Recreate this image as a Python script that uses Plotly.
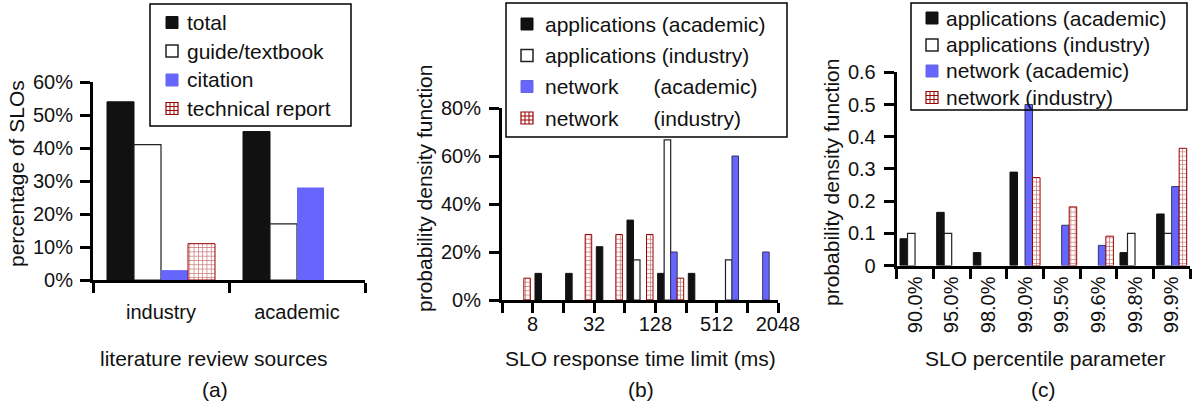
import numpy as np
import plotly.graph_objects as go

W, H = 1195, 404
FONT = "Liberation Sans, Arial, sans-serif"

# ---------------- data ----------------
# (a) literature review sources
a_categories = ["industry", "academic"]
a_series_names = ["total", "guide/textbook", "citation", "technical report"]
a_total = [54, 45]
a_guide = [41, 17]
a_citation = [3, 28]
a_techreport = [11, 0]
a_yticks = [0, 10, 20, 30, 40, 50, 60]

# (b) SLO response time limit histogram (bins by lower edge, ms)
b_bin_lower_ms = [4, 8, 16, 32, 64, 128, 256, 512, 1024]
b_tick_values_ms = [4, 8, 16, 32, 64, 128, 256, 512, 1024, 2048]
b_tick_labels = ["", "8", "", "32", "", "128", "", "512", "", "2048"]
b_apps_academic = [0, 11.1, 11.1, 22.2, 33.3, 11.1, 11.1, 0, 0]
b_apps_industry = [0, 0, 0, 0, 16.7, 66.7, 0, 16.7, 0]
b_net_academic = [0, 0, 0, 0, 0, 20, 0, 60, 20]
b_net_industry = [9.1, 0, 27.3, 27.3, 27.3, 9.1, 0, 0, 0]
b_yticks = [0, 20, 40, 60, 80]

# (c) SLO percentile parameter
c_categories = ["90.0%", "95.0%", "98.0%", "99.0%", "99.5%", "99.6%", "99.8%", "99.9%"]
c_apps_academic = [0.083, 0.165, 0.04, 0.29, 0, 0, 0.04, 0.16]
c_apps_industry = [0.1, 0.1, 0, 0, 0, 0, 0.1, 0.1]
c_net_academic = [0, 0, 0, 0.5, 0.125, 0.0625, 0, 0.245]
c_net_industry = [0, 0, 0, 0.273, 0.182, 0.091, 0, 0.364]
c_yticks = [0, 0.1, 0.2, 0.3, 0.4, 0.5, 0.6]

b_series_names = ["applications (academic)", "applications (industry)",
                  "network\u00a0\u00a0\u00a0\u00a0\u00a0\u00a0(academic)",
                  "network\u00a0\u00a0\u00a0\u00a0\u00a0\u00a0(industry)"]
c_series_names = ["applications (academic)", "applications (industry)",
                  "network (academic)", "network (industry)"]

# ---------------- styles ----------------
BLACK = "#111111"
BLUE = "#6666FF"
RED = "#990000"


def style(k, panel):
    if k == 0:
        return dict(color=BLACK, line=dict(color=BLACK, width=1))
    if k == 1:
        return dict(color="white", line=dict(color="#222222", width=1.2))
    if k == 2:
        if panel == "a":
            return dict(color=BLUE, line=dict(color=BLUE, width=0))
        return dict(color=BLUE, line=dict(color="#333366", width=1))
    return dict(color="white", line=dict(color=RED, width=1),
                pattern=dict(shape="+", fgcolor=RED, bgcolor="white", size=4.3, solidity=0.33))


def px2x(px):
    return px / W


def px2y(py):
    return 1 - py / H


def nz(vals):
    return [v if v else None for v in vals]


fig = go.Figure()

# panel (a)
a_vals = [a_total, a_guide, a_citation, a_techreport]
frac_a = 0.794
wa = frac_a / 4
for k, (name, vals) in enumerate(zip(a_series_names, a_vals)):
    fig.add_trace(go.Bar(x=a_categories, y=nz(vals), name=name, width=wa,
                         offset=-frac_a / 2 + k * wa, marker=style(k, "a"),
                         xaxis="x", yaxis="y", showlegend=False))

# panel (b)
b_vals = [b_apps_academic, b_apps_industry, b_net_academic, b_net_industry]
b_x = np.log2(np.array(b_bin_lower_ms, dtype=float)) + 0.5
frac_b = 0.85
wb = frac_b / 4
for k, (name, vals) in enumerate(zip(b_series_names, b_vals)):
    fig.add_trace(go.Bar(x=b_x, y=nz(vals), name=name, width=wb,
                         offset=-frac_b / 2 + k * wb, marker=style(k, "b"),
                         xaxis="x2", yaxis="y2", showlegend=False))

# panel (c)
c_vals = [c_apps_academic, c_apps_industry, c_net_academic, c_net_industry]
frac_c = 0.82
wc = frac_c / 4
for k, (name, vals) in enumerate(zip(c_series_names, c_vals)):
    fig.add_trace(go.Bar(x=c_categories, y=nz(vals), name=name, width=wc,
                         offset=-frac_c / 2 + k * wc, marker=style(k, "c"),
                         xaxis="x3", yaxis="y3", showlegend=False))

axis_common = dict(showline=True, linecolor="black", linewidth=3, ticks="outside",
                   ticklen=10, tickwidth=3, tickcolor="black", showgrid=False,
                   zeroline=False, automargin=False,
                   tickfont=dict(family=FONT, size=20, color=BLACK))

fig.update_layout(
    width=W, height=H, margin=dict(l=0, r=0, t=0, b=0, autoexpand=False),
    paper_bgcolor="white", plot_bgcolor="white", showlegend=False,
    barmode="overlay", font=dict(family=FONT, size=21, color=BLACK),
    xaxis=dict(axis_common, domain=[px2x(93), px2x(365)], anchor="y", type="category",
               tickson="boundaries", range=[-0.5, 1.5], ticklabelstandoff=12),
    yaxis=dict(axis_common, domain=[px2y(280), px2y(82)], anchor="x", range=[0, 60],
               tickvals=a_yticks, ticktext=[f"{v}%" for v in a_yticks],
               ticklabelstandoff=3),
    xaxis2=dict(axis_common, domain=[px2x(502), px2x(778)], anchor="y2",
                range=[np.log2(b_tick_values_ms[0]), np.log2(b_tick_values_ms[-1])],
                tickvals=list(np.log2(b_tick_values_ms)), ticktext=b_tick_labels,
                ticklabelstandoff=-6),
    yaxis2=dict(axis_common, domain=[px2y(300), px2y(108)], anchor="x2", range=[0, 80],
                tickvals=b_yticks, ticktext=[f"{v}%" for v in b_yticks],
                ticklabelstandoff=4),
    xaxis3=dict(axis_common, domain=[px2x(896.7), px2x(1190)], anchor="y3", type="category",
                tickson="boundaries", range=[-0.5, 7.5], tickangle=-90),
    yaxis3=dict(axis_common, domain=[px2y(265.5), px2y(72.3)], anchor="x3", range=[0, 0.6],
                tickvals=c_yticks, ticktext=[f"{v:g}" for v in c_yticks],
                ticklabelstandoff=4),
)

ann = []
shapes = []


def text(t, x, y, angle=0, size=21, anchor="center"):
    ann.append(dict(text=t, x=px2x(x), y=px2y(y), xref="paper", yref="paper",
                    showarrow=False, xanchor=anchor, yanchor="middle", textangle=angle,
                    font=dict(family=FONT, size=size, color=BLACK)))


def rect(x0, y0, x1, y1, fill, line, lw):
    shapes.append(dict(type="rect", xref="paper", yref="paper",
                       x0=px2x(x0), x1=px2x(x1), y0=px2y(y1), y1=px2y(y0),
                       fillcolor=fill, line=dict(color=line, width=lw)))


def seg(x0, y0, x1, y1, color, lw):
    shapes.append(dict(type="line", xref="paper", yref="paper",
                       x0=px2x(x0), x1=px2x(x1), y0=px2y(y0), y1=px2y(y1),
                       line=dict(color=color, width=lw)))


def icon(k, x0, yc, s=12):
    y0, y1 = yc - s / 2, yc + s / 2
    x1 = x0 + s
    if k == 0:
        rect(x0, y0, x1, y1, BLACK, BLACK, 1)
    elif k == 1:
        rect(x0, y0, x1, y1, "white", "#222222", 1.5)
    elif k == 2:
        rect(x0, y0, x1, y1, BLUE, "#6666DD", 1)
    else:
        rect(x0, y0, x1, y1, "white", RED, 1.2)
        for f in (1 / 3, 2 / 3):
            seg(x0 + f * s, y0, x0 + f * s, y1, RED, 1)
            seg(x0, y0 + f * s, x1, y0 + f * s, RED, 1)


def legend(names, box, icon_x, text_x, centers):
    rect(box[0], box[1], box[2], box[3], "rgba(0,0,0,0)", "black", 1.5)
    for k, (nm, yc) in enumerate(zip(names, centers)):
        icon(k, icon_x, yc)
        text(nm, text_x, yc, anchor="left")


legend(a_series_names, (150, 4, 351, 126), 166, 185, [22.5, 51, 80, 108.5])
legend(b_series_names, (506, 3, 787, 137), 521, 543, [24, 55.5, 86.5, 118])
legend(c_series_names, (911, 3, 1187, 110), 926, 944, [18, 45, 71, 97.5])

text("percentage of SLOs", 17, 174, -90)
text("literature review sources", 214, 358)
text("(a)", 215, 389)
text("probability density function", 424, 189, -90)
text("SLO response time limit (ms)", 640, 358)
text("(b)", 641, 389)
text("probability density function", 832, 182, -90)
text("SLO percentile parameter", 1045, 358)
text("(c)", 1043, 389)
fig.update_layout(annotations=ann, shapes=shapes)

fig.write_html("out.html", config={"displayModeBar": False},
               post_script="document.body.style.margin='0px';"
                           "document.body.style.overflow='hidden';")
